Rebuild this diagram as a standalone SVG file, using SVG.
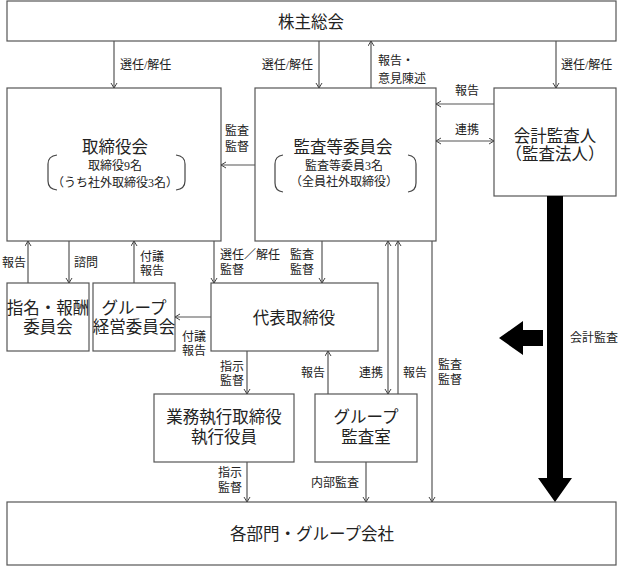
<svg xmlns="http://www.w3.org/2000/svg" width="620" height="567" viewBox="0 0 620 567">
<style>
text{font-family:"Liberation Serif","Noto Sans CJK JP",serif;fill:#222;dominant-baseline:central}
.box{fill:#fff;stroke:#555;stroke-width:1.2}
.t{font-size:16.5px;text-anchor:middle}
.s{font-size:12px;text-anchor:middle}
.l{font-size:12px}
.e{font-size:12px;text-anchor:end}
.c{fill:none;stroke:#555;stroke-width:1.2}
.br{fill:none;stroke:#444;stroke-width:1.2}
</style>
<defs>
<marker id="a" markerWidth="8" markerHeight="8" refX="5.5" refY="3.5" orient="auto-start-reverse" markerUnits="userSpaceOnUse">
<path d="M0.5,0.5 L5.5,3.5 L0.5,6.5" fill="none" stroke="#444" stroke-width="1"/>
</marker>
</defs>
<g id="shareholders"><rect class="box" x="7" y="1" width="609" height="40"/><text class="t" x="311" y="22" font-size="17.5">株主総会</text></g>
<g id="board"><rect class="box" x="7" y="88" width="214" height="153"/><text class="t" x="115" y="147">取締役会</text><text class="s" x="115" y="166">取締役9名</text><text class="s" x="115" y="183">（うち社外取締役3名）</text>
<path class="br" d="M57,155 Q48,156 48,164 L48,181 Q48,189 57,190"/><path class="br" d="M176,155 Q185,156 185,164 L185,181 Q185,189 176,190"/></g>
<g id="auditcommittee"><rect class="box" x="255" y="88" width="181" height="153"/><text class="t" x="343" y="147">監査等委員会</text><text class="s" x="344" y="166">監査等委員3名</text><text class="s" x="344" y="182">（全員社外取締役）</text>
<path class="br" d="M283,155 Q275,156 275,164 L275,183 Q275,191 283,192"/><path class="br" d="M408,155 Q416,156 416,164 L416,183 Q416,191 408,192"/></g>
<g id="auditor"><rect class="box" x="494" y="88" width="122" height="108"/><text class="t" x="555" y="136">会計監査人</text><text class="t" x="555" y="154">（監査法人）</text></g>
<g id="nomination"><rect class="box" x="7" y="283" width="82" height="68"/><text class="t" x="48" y="308" font-size="14">指名・報酬</text><text class="t" x="48" y="327" font-size="14">委員会</text></g>
<g id="groupmgmt"><rect class="box" x="93" y="283" width="82" height="68"/><text class="t" x="134" y="308" font-size="14">グループ</text><text class="t" x="134" y="327" font-size="14">経営委員会</text></g>
<g id="president"><rect class="box" x="211" y="283" width="167" height="68"/><text class="t" x="294" y="318">代表取締役</text></g>
<g id="executives"><rect class="box" x="154" y="394" width="140" height="68"/><text class="t" x="224" y="417">業務執行取締役</text><text class="t" x="224" y="437">執行役員</text></g>
<g id="internalaudit"><rect class="box" x="315" y="394" width="102" height="68"/><text class="t" x="366" y="417">グループ</text><text class="t" x="366" y="437">監査室</text></g>
<g id="divisions"><rect class="box" x="7" y="502" width="609" height="63"/><text class="t" x="312" y="534">各部門・グループ会社</text></g>
<g id="connectors">
<line class="c" x1="114" y1="41" x2="114" y2="88" marker-end="url(#a)"/>
<line class="c" x1="319" y1="41" x2="319" y2="88" marker-end="url(#a)"/>
<line class="c" x1="371" y1="88" x2="371" y2="41" marker-end="url(#a)"/>
<line class="c" x1="556" y1="41" x2="556" y2="88" marker-end="url(#a)"/>
<line class="c" x1="494" y1="104" x2="436" y2="104" marker-end="url(#a)"/>
<line class="c" x1="436" y1="141" x2="494" y2="141" marker-start="url(#a)" marker-end="url(#a)"/>
<line class="c" x1="255" y1="165" x2="221" y2="165" marker-end="url(#a)"/>
<line class="c" x1="28" y1="283" x2="28" y2="241" marker-end="url(#a)"/>
<line class="c" x1="69" y1="241" x2="69" y2="283" marker-end="url(#a)"/>
<line class="c" x1="134" y1="283" x2="134" y2="241" marker-end="url(#a)"/>
<line class="c" x1="214" y1="241" x2="214" y2="283" marker-end="url(#a)"/>
<line class="c" x1="322" y1="241" x2="322" y2="283" marker-end="url(#a)"/>
<line class="c" x1="211" y1="317" x2="175" y2="317" marker-end="url(#a)"/>
<line class="c" x1="247" y1="351" x2="247" y2="394" marker-end="url(#a)"/>
<line class="c" x1="328" y1="394" x2="328" y2="351" marker-end="url(#a)"/>
<line class="c" x1="388" y1="241" x2="388" y2="394" marker-start="url(#a)" marker-end="url(#a)"/>
<line class="c" x1="398" y1="394" x2="398" y2="241" marker-end="url(#a)"/>
<line class="c" x1="432" y1="241" x2="432" y2="502" marker-end="url(#a)"/>
<line class="c" x1="247" y1="462" x2="247" y2="502" marker-end="url(#a)"/>
<line class="c" x1="366" y1="462" x2="366" y2="502" marker-end="url(#a)"/>
<polygon points="547,196 563,196 563,478 572,478 555,502 538,478 547,478" fill="#000"/>
<polygon points="543,330 543,346 523,346 523,355 499,338 523,321 523,330" fill="#000"/>
</g>
<g id="labels">
<text class="l" x="120" y="65">選任/解任</text>
<text class="e" x="313" y="65">選任/解任</text>
<text class="l" x="378" y="61">報告・</text>
<text class="l" x="378" y="79">意見陳述</text>
<text class="l" x="561" y="65">選任/解任</text>
<text class="s" x="467" y="91">報告</text>
<text class="s" x="467" y="130">連携</text>
<text class="l" x="225" y="131">監査</text>
<text class="l" x="225" y="147">監督</text>
<text class="l" x="2" y="263">報告</text>
<text class="l" x="74" y="263">諮問</text>
<text class="l" x="140" y="257">付議</text>
<text class="l" x="140" y="271">報告</text>
<text class="l" x="220" y="255">選任／解任</text>
<text class="l" x="220" y="270">監督</text>
<text class="l" x="290" y="255">監査</text>
<text class="l" x="290" y="270">監督</text>
<text class="l" x="182" y="337">付議</text>
<text class="l" x="182" y="351">報告</text>
<text class="l" x="220" y="367">指示</text>
<text class="l" x="220" y="381">監督</text>
<text class="l" x="301" y="373">報告</text>
<text class="l" x="359" y="373">連携</text>
<text class="l" x="403" y="373">報告</text>
<text class="l" x="438" y="365">監査</text>
<text class="l" x="438" y="380">監督</text>
<text class="l" x="218" y="473">指示</text>
<text class="l" x="218" y="488">監督</text>
<text class="l" x="311" y="483">内部監査</text>
<text class="l" x="570" y="338">会計監査</text>
</g>
</svg>
